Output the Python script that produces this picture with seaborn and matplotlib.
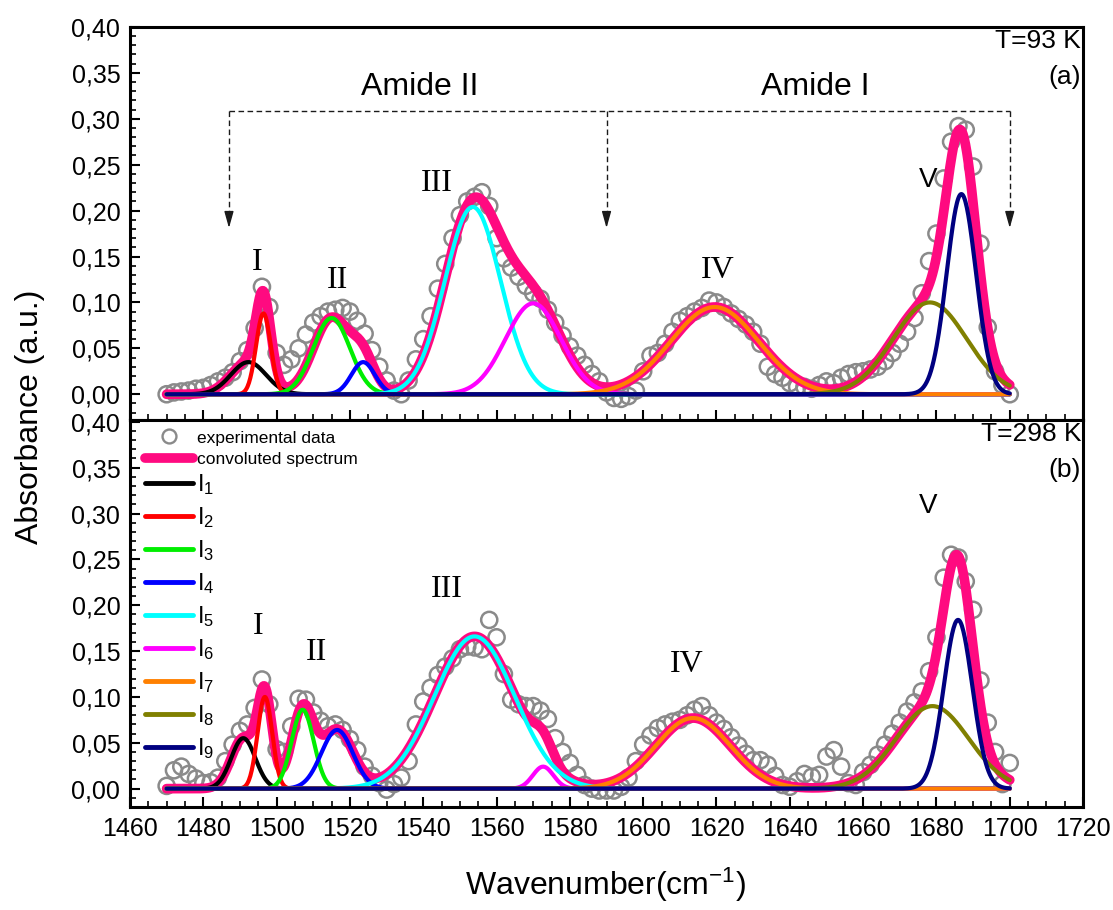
import numpy as np
import pandas as pd
import matplotlib
matplotlib.use("Agg")
import matplotlib.pyplot as plt
import seaborn as sns
from matplotlib.ticker import MultipleLocator, FuncFormatter
from matplotlib.lines import Line2D

sns.set_theme(style="ticks")
plt.rcParams["font.family"] = ["Liberation Sans", "DejaVu Sans"]
plt.rcParams["mathtext.fontset"] = "custom"
plt.rcParams["mathtext.rm"] = "Liberation Sans"
plt.rcParams["mathtext.it"] = "Liberation Sans:italic"
plt.rcParams["axes.linewidth"] = 2.2
for key in ["text.color", "axes.labelcolor", "xtick.color", "ytick.color",
            "axes.edgecolor"]:
    plt.rcParams[key] = "black"

# ---------------------------------------------------------------- data
# measurement grid (cm^-1)
wavenumber = np.arange(1470, 1701, 2)

# measured absorbance, T = 93 K
absorb_93K = [
    0.000, 0.002, 0.003, 0.004, 0.006, 0.007, 0.010, 0.014, 0.018, 0.024,
    0.036, 0.048, 0.072, 0.117, 0.095, 0.045, 0.032, 0.038, 0.050, 0.065,
    0.078, 0.085, 0.090, 0.092, 0.094, 0.090, 0.080, 0.066, 0.048, 0.030,
    0.015, 0.004, 0.000, 0.015, 0.038, 0.060, 0.085, 0.115, 0.142, 0.170,
    0.195, 0.210, 0.215, 0.220, 0.205, 0.170, 0.148, 0.138, 0.128, 0.118,
    0.110, 0.104, 0.092, 0.078, 0.064, 0.052, 0.042, 0.032, 0.022, 0.014,
    0.002, -0.004, -0.005, -0.002, 0.004, 0.025, 0.042, 0.045, 0.055, 0.068,
    0.080, 0.085, 0.090, 0.094, 0.102, 0.100, 0.095, 0.088, 0.082, 0.076,
    0.068, 0.055, 0.030, 0.022, 0.018, 0.012, 0.008, 0.008, 0.006, 0.010,
    0.014, 0.012, 0.018, 0.022, 0.024, 0.025, 0.027, 0.030, 0.036, 0.045,
    0.055, 0.068, 0.083, 0.110, 0.145, 0.175, 0.235, 0.275, 0.292, 0.288,
    0.248, 0.164, 0.073, 0.025, 0.010, 0.000,
]

# measured absorbance, T = 298 K
absorb_298K = [
    0.003, 0.020, 0.024, 0.016, 0.011, 0.006, 0.007, 0.012, 0.030, 0.048,
    0.063, 0.070, 0.088, 0.119, 0.092, 0.043, 0.040, 0.068, 0.098, 0.097,
    0.083, 0.074, 0.068, 0.070, 0.064, 0.054, 0.042, 0.024, 0.014, 0.006,
    -0.001, 0.005, 0.012, 0.030, 0.070, 0.095, 0.110, 0.124, 0.133, 0.142,
    0.152, 0.155, 0.154, 0.152, 0.184, 0.165, 0.125, 0.097, 0.092, 0.090,
    0.090, 0.085, 0.076, 0.055, 0.040, 0.028, 0.015, 0.004, 0.000, -0.002,
    -0.002, -0.002, 0.002, 0.012, 0.030, 0.048, 0.058, 0.066, 0.070, 0.073,
    0.075, 0.080, 0.086, 0.090, 0.080, 0.072, 0.065, 0.056, 0.047, 0.038,
    0.031, 0.031, 0.026, 0.014, 0.004, 0.002, 0.008, 0.016, 0.013, 0.015,
    0.035, 0.042, 0.024, 0.006, 0.004, 0.018, 0.026, 0.037, 0.048, 0.060,
    0.072, 0.084, 0.094, 0.106, 0.128, 0.165, 0.230, 0.255, 0.252, 0.226,
    0.195, 0.118, 0.072, 0.040, 0.005, 0.028,
]

# fitted Gaussian bands I1..I9: centre (cm^-1), height, standard deviation (cm^-1)
centers_93K = [1492.3, 1496.4, 1515.0, 1523.6, 1553.5, 1570.0, 1619.5, 1678.2, 1686.8]
heights_93K = [0.035, 0.088, 0.083, 0.035, 0.204, 0.099, 0.095, 0.100, 0.218]
widths_93K = [4.8, 2.0, 5.0, 3.2, 7.6, 7.6, 12.0, 10.0, 4.0]

centers_298K = [1490.9, 1496.8, 1507.1, 1516.5, 1554.0, 1572.7, 1613.6, 1678.9, 1685.9]
heights_298K = [0.055, 0.100, 0.086, 0.064, 0.166, 0.024, 0.077, 0.090, 0.184]
widths_298K = [3.3, 2.0, 3.0, 4.3, 11.0, 2.8, 10.2, 9.9, 3.9]

band_labels = [f"I$_{{{i}}}$" for i in range(1, 10)]
band_colors = ["#000000", "#ff0000", "#00ee00", "#0000ff", "#00ffff",
               "#ff00ff", "#ff8000", "#808000", "#000080"]
fit_color = "#ff0a80"
data_color = "#8a8a8a"

# Roman numeral band-group labels: (text, x, y, serif?)
marks_93K = [("I", 1494.6, 0.144, True), ("II", 1516.7, 0.124, True),
             ("III", 1543.7, 0.230, True), ("IV", 1620.3, 0.135, True),
             ("V", 1677.6, 0.233, False)]
marks_298K = [("I", 1495.0, 0.177, True), ("II", 1511.0, 0.148, True),
              ("III", 1546.5, 0.217, True), ("IV", 1612.0, 0.135, True),
              ("V", 1677.6, 0.308, False)]

# ---------------------------------------------------------------- helpers
x_fine = np.linspace(1470, 1700, 1200)


def bands(centers, heights, widths):
    c = np.asarray(centers)[:, None]
    h = np.asarray(heights)[:, None]
    w = np.asarray(widths)[:, None]
    return h * np.exp(-(x_fine[None, :] - c) ** 2 / (2 * w ** 2))


def comma_fmt(v, _):
    return f"{v:.2f}".replace(".", ",")


def draw_panel(ax, absorb, centers, heights, widths, marks):
    comps = bands(centers, heights, widths)
    total = comps.sum(axis=0)
    df = pd.DataFrame({"wavenumber": wavenumber, "absorbance": absorb})
    sns.scatterplot(data=df, x="wavenumber", y="absorbance", ax=ax,
                    marker="o", s=135, color=data_color, facecolor="none",
                    edgecolor=data_color, linewidth=1.8, zorder=2, legend=False)
    for coll in ax.collections:
        coll.set_facecolor("none")
    sns.lineplot(x=x_fine, y=total, ax=ax, color=fit_color, linewidth=7.0,
                 zorder=3, legend=False, solid_capstyle="round")
    for k in range(len(centers)):
        sns.lineplot(x=x_fine, y=comps[k], ax=ax, color=band_colors[k],
                     linewidth=3.0, zorder=4 + k, legend=False)
    for text, xm, ym, serif in marks:
        ax.text(xm, ym, text, ha="center", va="center",
                fontsize=23 if serif else 20,
                family="Liberation Serif" if serif else "Liberation Sans",
                zorder=20)

    ax.set_xlim(1460, 1720)
    ax.xaxis.set_major_locator(MultipleLocator(20))
    ax.xaxis.set_minor_locator(MultipleLocator(5))
    ax.yaxis.set_major_locator(MultipleLocator(0.05))
    ax.yaxis.set_minor_locator(MultipleLocator(0.01))
    ax.yaxis.set_major_formatter(FuncFormatter(comma_fmt))
    ax.tick_params(which="major", direction="in", length=7, width=1.5,
                   labelsize=18, top=False, right=False, pad=7)
    ax.tick_params(which="minor", direction="in", length=4, width=1.2,
                   top=False, right=False)
    ax.set_xlabel("")
    ax.set_ylabel("")
    for sp in ax.spines.values():
        sp.set_linewidth(2.2)
        sp.set_color("black")


# ---------------------------------------------------------------- figure
fig = plt.figure(figsize=(11.13, 9.10), dpi=100)
ax_a = fig.add_axes([0.1168, 0.5385, 0.8563, 0.4319])
ax_b = fig.add_axes([0.1168, 0.1132, 0.8563, 0.4253])

draw_panel(ax_a, absorb_93K, centers_93K, heights_93K, widths_93K, marks_93K)
draw_panel(ax_b, absorb_298K, centers_298K, heights_298K, widths_298K, marks_298K)
ax_a.set_ylim(-0.028, 0.40)
ax_b.set_ylim(-0.020, 0.402)
ax_a.tick_params(labelbottom=False)

# Amide II / Amide I bracket with arrows
bracket_y, tip_y = 0.308, 0.181
arrow_x = [1487, 1590, 1700]
dash = (0, (4, 2.5))
ax_a.plot([arrow_x[0], arrow_x[-1]], [bracket_y, bracket_y], color="k",
          lw=1.0, ls=dash, zorder=15)
for xa in arrow_x:
    ax_a.plot([xa, xa], [bracket_y, tip_y + 0.012], color="k", lw=1.0,
              ls=dash, zorder=15)
    ax_a.annotate("", xy=(xa, tip_y), xytext=(xa, tip_y + 0.016),
                  arrowprops=dict(arrowstyle="-|>,head_length=0.5,head_width=0.14",
                                  color="k", lw=1.0, shrinkA=0, shrinkB=0,
                                  mutation_scale=20), zorder=15)
ax_a.text(1539, 0.335, "Amide II", ha="center", va="center", fontsize=23)
ax_a.text(1647, 0.335, "Amide I", ha="center", va="center", fontsize=23)

# temperature / panel tags
ax_a.text(0.998, 0.995, "T=93 K", transform=ax_a.transAxes, ha="right",
          va="top", fontsize=19)
ax_a.text(0.998, 0.873, "(a)", transform=ax_a.transAxes, ha="right",
          va="center", fontsize=19)
ax_b.text(0.998, 0.995, "T=298 K", transform=ax_b.transAxes, ha="right",
          va="top", fontsize=19)
ax_b.text(0.998, 0.871, "(b)", transform=ax_b.transAxes, ha="right",
          va="center", fontsize=19)

# legend: data + fit entries, then the nine bands
top_handles = [Line2D([], [], ls="none", marker="o", ms=10, mfc="none",
                      mec=data_color, mew=1.7),
               Line2D([], [], color=fit_color, lw=7, solid_capstyle="round")]
band_handles = [Line2D([], [], color=c, lw=3.5) for c in band_colors]

leg_top = ax_b.legend(top_handles, ["experimental data", "convoluted spectrum"],
                      loc="center left", bbox_to_anchor=(0.0157, 0.926),
                      frameon=False, fontsize=12.5, handlelength=2.77,
                      handletextpad=0.23, labelspacing=0.35, borderaxespad=0.0,
                      borderpad=0.0)
ax_b.add_artist(leg_top)
ax_b.legend(band_handles, band_labels, loc="center left",
            bbox_to_anchor=(0.0157, 0.492), frameon=False, fontsize=17,
            handlelength=2.03, handletextpad=0.17, labelspacing=0.34,
            borderaxespad=0.0, borderpad=0.0)

# axis titles
fig.text(30 / 1113, 1 - 417 / 910, "Absorbance (a.u.)", rotation=90,
         ha="center", va="center", fontsize=23)
fig.text(606 / 1113, 1 - 885 / 910, "Wavenumber(cm$^{-1}$)", ha="center",
         va="center", fontsize=23)

fig.savefig("out.png", dpi=100)
